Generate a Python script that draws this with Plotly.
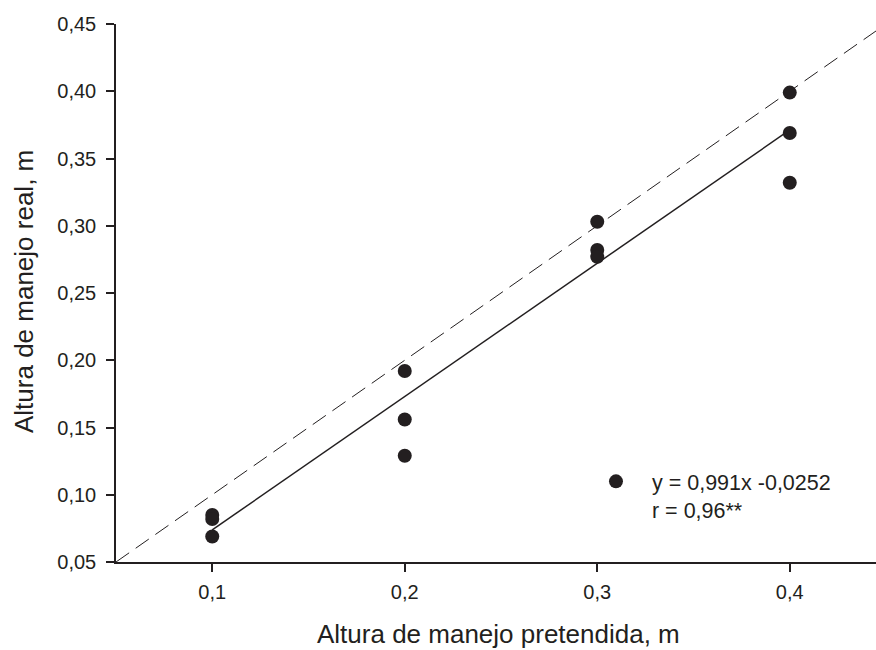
import plotly.graph_objects as go

# Intended vs. measured grazing height (m), three replicates per target height
target_height = [0.1, 0.1, 0.1, 0.2, 0.2, 0.2, 0.3, 0.3, 0.3, 0.4, 0.4, 0.4]
real_height = [0.085, 0.082, 0.069, 0.192, 0.156, 0.129, 0.303, 0.282, 0.277, 0.399, 0.369, 0.332]

# Fitted regression y = a*x + b
slope = 0.991
intercept = -0.0252
fit_x = [0.1, 0.4]
fit_y = [slope * v + intercept for v in fit_x]

# 1:1 reference line
ref_x = [0.05, 0.45]
ref_y = [0.05, 0.45]

ink = "#231f20"
font_family = "Liberation Sans, Arial, sans-serif"

fig = go.Figure()

fig.add_trace(go.Scatter(
    x=ref_x, y=ref_y, mode="lines",
    line=dict(color=ink, width=1, dash="16px,8px"),
    showlegend=False, hoverinfo="skip",
))
fig.add_trace(go.Scatter(
    x=fit_x, y=fit_y, mode="lines",
    line=dict(color=ink, width=1.5),
    showlegend=False, hoverinfo="skip",
))
fig.add_trace(go.Scatter(
    x=target_height, y=real_height, mode="markers",
    marker=dict(color=ink, size=14),
    name="y = 0,991x -0,0252<br>r = 0,96**",
    showlegend=True,
))

fig.update_layout(
    width=876, height=650,
    margin=dict(l=116, r=0, t=24, b=88),
    paper_bgcolor="white", plot_bgcolor="white",
    separators=", ",
    font=dict(family=font_family, size=20, color=ink),
    showlegend=True,
    legend=dict(
        x=0.6105, y=0.188, xanchor="left", yanchor="top",
        bgcolor="rgba(0,0,0,0)", font=dict(size=21.5, color=ink),
        itemwidth=62, valign="top", tracegroupgap=0,
    ),
    xaxis=dict(
        range=[0.05, 0.4448], tick0=0.1, dtick=0.1, tickformat=".1f",
        showline=True, linecolor=ink, linewidth=1.5,
        ticks="outside", ticklen=8, tickwidth=1.5, tickcolor=ink,
        showgrid=False, zeroline=False, ticklabelstandoff=3,
    ),
    yaxis=dict(
        range=[0.05, 0.45], tick0=0.05, dtick=0.05, tickformat=".2f",
        showline=True, linecolor=ink, linewidth=1.5,
        ticks="outside", ticklen=8, tickwidth=1.5, tickcolor=ink,
        showgrid=False, zeroline=False, ticklabelstandoff=6,
    ),
    annotations=[
        dict(text="Altura de manejo pretendida, m", xref="paper", yref="paper",
             x=(499 - 116) / 760, y=-(634 - 562) / 538, xanchor="center", yanchor="middle",
             showarrow=False, font=dict(size=26, color=ink)),
        dict(text="Altura de manejo real, m", xref="paper", yref="paper",
             x=-(116 - 24) / 760, y=(562 - 292) / 538, xanchor="center", yanchor="middle",
             textangle=-90, showarrow=False, font=dict(size=26, color=ink)),
    ],
)

fig.write_html("out.html")
